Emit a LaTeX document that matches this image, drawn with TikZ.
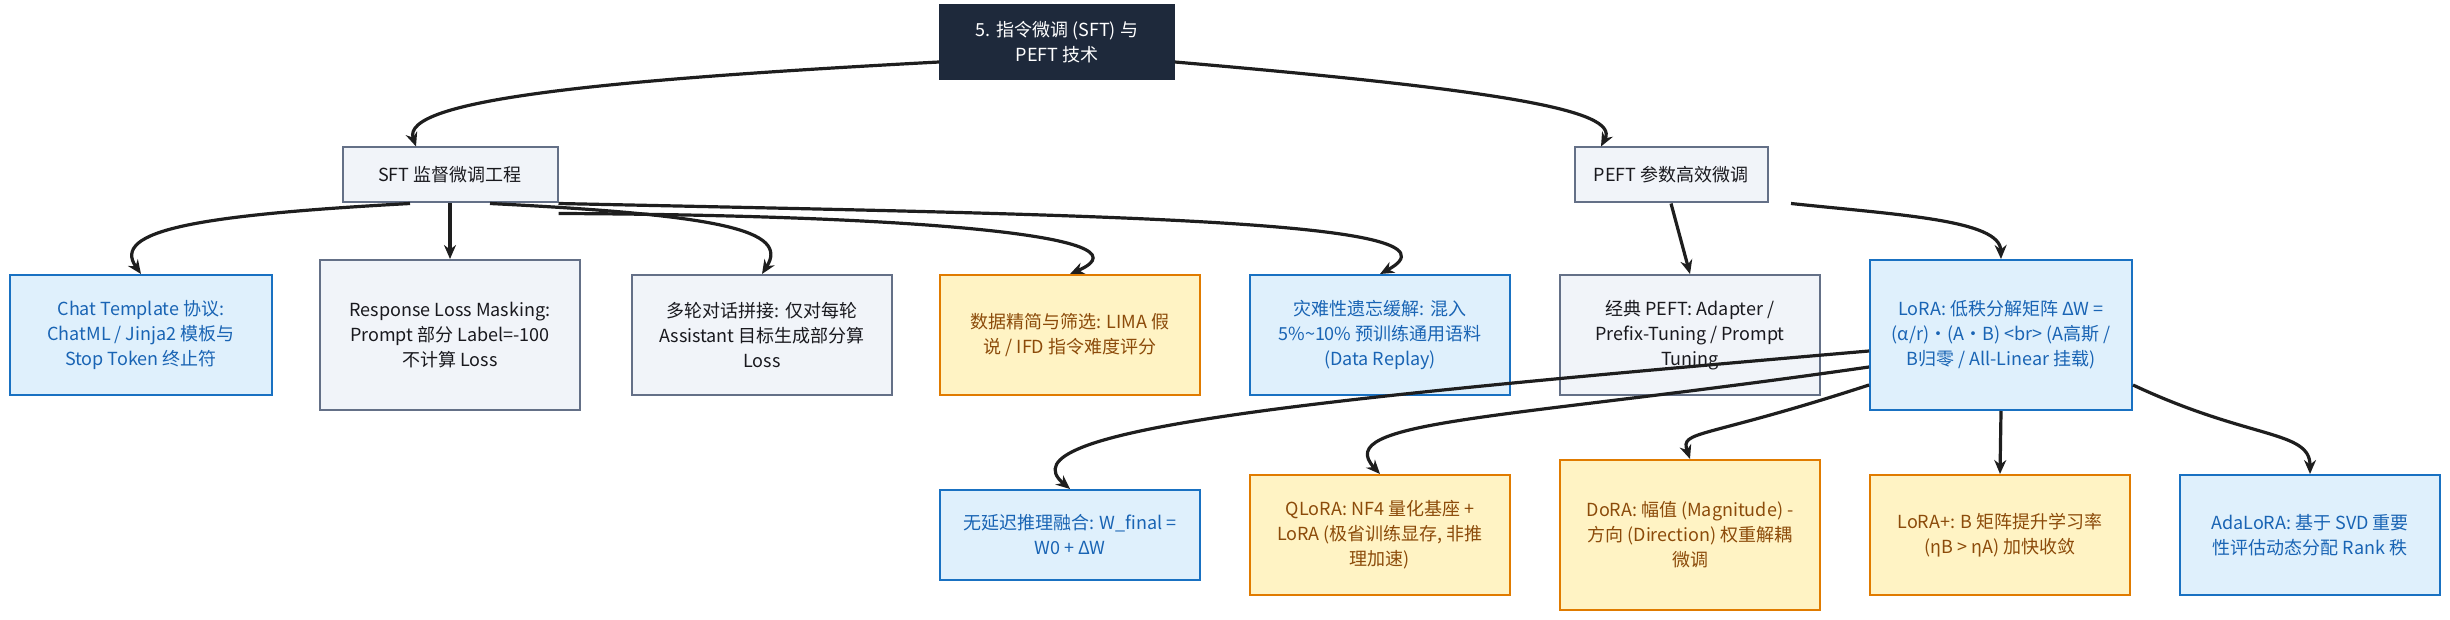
\documentclass[tikz,border=0pt]{standalone}
\usepackage{fontspec}
\setmainfont{Noto Sans CJK SC}
\usetikzlibrary{arrows.meta}
\begin{document}
\begin{tikzpicture}[x=0.5pt,y=-0.5pt,
 base/.style={draw,line width=1pt,align=center,inner sep=3pt,font=\fontsize{9}{12.5}\selectfont},
 bl/.style={base,draw={rgb,255:red,25;green,113;blue,194},text={rgb,255:red,25;green,100;blue,180},fill={rgb,255:red,223;green,240;blue,252}},
 gr/.style={base,fill={rgb,255:red,241;green,244;blue,249},draw={rgb,255:red,100;green,112;blue,135},text={rgb,255:red,25;green,25;blue,30}},
 og/.style={base,fill={rgb,255:red,255;green,243;blue,196},draw={rgb,255:red,224;green,123;blue,0},text={rgb,255:red,140;green,75;blue,10}},
 ar/.style={draw={rgb,255:red,30;green,30;blue,30},line width=1.6pt,-{Stealth[length=7pt,width=6pt]}}]
\useasboundingbox (0,0) rectangle (2450,620);
\node[draw={rgb,255:red,30;green,41;blue,59},fill={rgb,255:red,30;green,41;blue,59},text=white,align=center,minimum width=117.5pt,minimum height=37.5pt,font=\fontsize{9}{12.5}\selectfont] (root) at (1057,42) {5. 指令微调 (SFT) 与\\PEFT 技术};
\node[gr,minimum width=107.5pt,minimum height=27.5pt] (sft) at (450,175) {SFT 监督微调工程};
\node[gr,minimum width=96.5pt,minimum height=27.5pt] (peft) at (1671,175) {PEFT 参数高效微调};
\node[bl,minimum width=131pt,minimum height=60pt] (ct) at (141,335) {Chat Template 协议:\\ChatML / Jinja2 模板与\\Stop Token 终止符};
\node[gr,minimum width=130pt,minimum height=75pt] (resp) at (450,335) {Response Loss Masking:\\Prompt 部分 Label=-100\\不计算 Loss};
\node[gr,minimum width=130pt,minimum height=60pt] (multi) at (762,335) {多轮对话拼接: 仅对每轮\\Assistant 目标生成部分算\\Loss};
\node[og,minimum width=130pt,minimum height=60pt] (data) at (1070,335) {数据精简与筛选: \textit{LIMA} 假\\说 / IFD 指令难度评分};
\node[bl,minimum width=130pt,minimum height=60pt] (cata) at (1380,335) {灾难性遗忘缓解: 混入\\5\%\string~10\% 预训练通用语料\\(Data Replay)};
\node[gr,minimum width=130pt,minimum height=60pt] (clas) at (1690,335) {经典 PEFT: Adapter /\\Prefix-Tuning / Prompt\\Tuning};
\node[bl,minimum width=131pt,minimum height=75pt] (lora) at (2001,335) {LoRA: 低秩分解矩阵 ΔW =\\(α/r)·(A·B) <br> (A高斯 /\\B归零 / All-Linear 挂载)};
\node[bl,minimum width=130pt,minimum height=45pt] (wf) at (1070,535) {无延迟推理融合: W\_final =\\W0 + ΔW};
\node[og,minimum width=130pt,minimum height=60pt] (ql) at (1380,535) {QLoRA: NF4 量化基座 +\\LoRA (极省训练显存, 非推\\理加速)};
\node[og,minimum width=130pt,minimum height=75pt] (dora) at (1690,535) {DoRA: 幅值 (Magnitude) -\\方向 (Direction) 权重解耦\\微调};
\node[og,minimum width=130pt,minimum height=60pt] (lp) at (2000,535) {LoRA+: B 矩阵提升学习率\\(ηB > ηA) 加快收敛};
\node[bl,minimum width=130pt,minimum height=60pt] (ada) at (2310,535) {AdaLoRA: 基于 SVD 重要\\性评估动态分配 Rank 秩};
\draw[ar] ([yshift=-10pt]root.west) .. controls (600,80) and (400,100) .. ([xshift=-17pt]sft.north);
\draw[ar] ([yshift=-10pt]root.east) .. controls (1500,90) and (1620,110) .. ([xshift=-35pt]peft.north);
\draw[ar] ([xshift=-20pt]sft.south) .. controls (200,215) and (110,230) .. (ct.north);
\draw[ar] (sft.south) -- (resp.north);
\draw[ar] ([xshift=20pt]sft.south) .. controls (720,215) and (790,230) .. (multi.north);
\draw[ar] ([yshift=-5pt]sft.south east) .. controls (900,215) and (1160,235) .. (data.north);
\draw[ar] ([yshift=0pt]sft.south east) .. controls (1100,215) and (1480,220) .. (cata.north);
\draw[ar] (peft.south) -- (clas.north);
\draw[ar] ([xshift=60pt]peft.south) .. controls (1900,215) and (2000,220) .. (lora.north);
\draw[ar] ([yshift=-8pt]lora.west) .. controls (1300,400) and (1000,430) .. (wf.north);
\draw[ar] ([yshift=-16pt]lora.west) .. controls (1500,420) and (1330,420) .. (ql.north);
\draw[ar] ([yshift=-25pt]lora.west) .. controls (1700,440) and (1680,430) .. (dora.north);
\draw[ar] (lora.south) -- (lp.north);
\draw[ar] ([yshift=-25pt]lora.east) .. controls (2250,440) and (2310,430) .. (ada.north);
\end{tikzpicture}
\end{document}
